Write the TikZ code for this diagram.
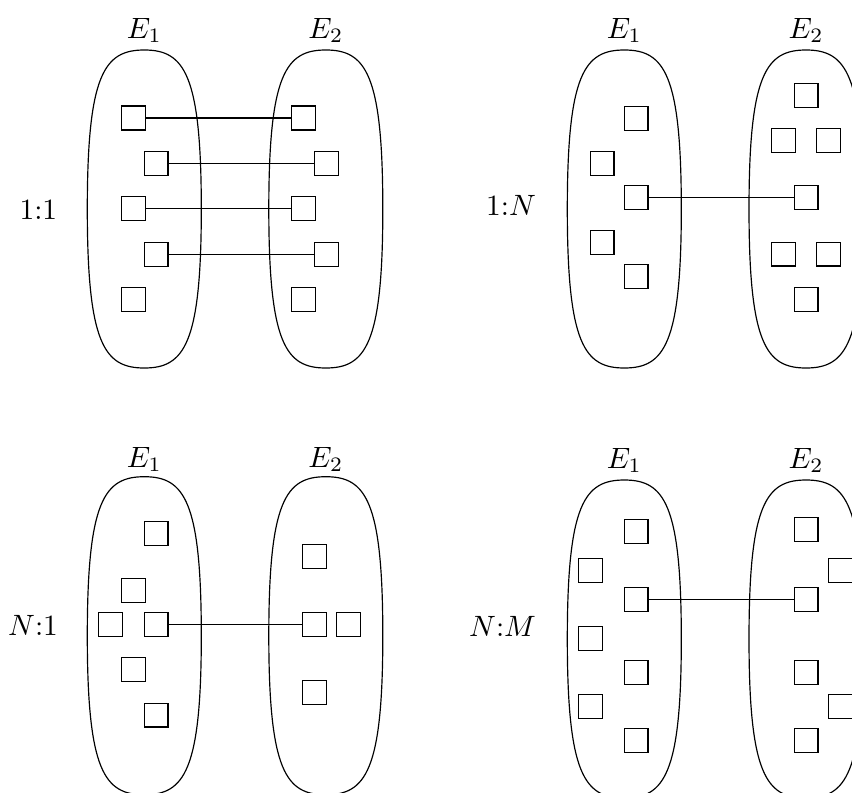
\documentclass[tikz,border=0pt]{standalone}
\usepackage{amsmath}
\usepackage{tikz}
\usetikzlibrary{positioning}
\usetikzlibrary{shapes}

\begin{document}
\begin{tikzpicture}[x=0.34pt, y=-0.34pt]
            % Set primary shapes
            \tikzset{
                setOval/.pic={
                        \draw (0,-159) .. controls (-39.9,-159) and (-57,-135.2) .. (-57,0)
                            .. controls (-57,135.2) and (-39.9,159) .. (0,159)
                            .. controls (39.9,159) and (57,135.2) .. (57,0)
                            .. controls (57,-135.2) and (39.9,-159) .. cycle;
                    }
            }
            \tikzset{
                elemNode/.style={
                        draw,
                        rectangle,
                        inner sep=0pt,
                        minimum size=8.1pt
                    }
            }
            \tikzset{
                setLabel/.style={
                        inner sep=0pt,
                        anchor=base
                    }
            }
            \tikzset{
                ratioLabel/.style={
                        inner sep=0pt,
                        anchor=base east
                    }
            }
            \useasboundingbox (0,0) rectangle (852,792);
            % 1:1
            \pic at (144.3,209) {setOval};
            \pic at (325.8,209) {setOval};
            \node[setLabel](oneOneLabel1) at (144.3,38.3){$E_1$};
            \node[setLabel](oneOneLabel2) at (325.8,38.3){$E_2$};
            \node[ratioLabel](oneOneRatio) at (57.8,219.3){$1{:}1$};
            \node[elemNode](oneOneLeft1) at (133.5,118){};
            \node[elemNode](oneOneLeft2) at (156,163.3){};
            \node[elemNode](oneOneLeft3) at (133.5,208.7){};
            \node[elemNode](oneOneLeft4) at (156,254.3){};
            \node[elemNode](oneOneLeft5) at (133.5,299.3){};
            \node[elemNode](oneOneRight1) at (303.5,118){};
            \node[elemNode](oneOneRight2) at (326.3,163.3){};
            \node[elemNode](oneOneRight3) at (303.5,208.7){};
            \node[elemNode](oneOneRight4) at (326.3,254.3){};
            \node[elemNode](oneOneRight5) at (303.5,299.3){};
            % 1:N
            \pic at (624.3,209) {setOval};
            \pic at (806,209) {setOval};
            \node[setLabel](oneManyLabel1) at (624.3,38.3){$E_1$};
            \node[setLabel](oneManyLabel2) at (806,38.3){$E_2$};
            \node[ratioLabel](oneManyRatio) at (536.5,215){$1{:}N$};
            \node[elemNode](oneManyLeft1) at (636,118.2){};
            \node[elemNode](oneManyLeft2) at (602,163.3){};
            \node[elemNode](oneManyLeft3) at (636,197.3){};
            \node[elemNode](oneManyLeft4) at (602,242.5){};
            \node[elemNode](oneManyLeft5) at (636,276.8){};
            \node[elemNode](oneManyRight1) at (806,95.3){};
            \node[elemNode](oneManyRight2) at (783.3,140.3){};
            \node[elemNode](oneManyRight3) at (828.7,140.3){};
            \node[elemNode](oneManyRight4) at (806,197.3){};
            \node[elemNode](oneManyRight5) at (783.3,254){};
            \node[elemNode](oneManyRight6) at (828.7,254){};
            \node[elemNode](oneManyRight7) at (806,299.3){};
            % N:1
            \pic at (144.3,635.7) {setOval};
            \pic at (325.8,635.7) {setOval};
            \node[setLabel](manyOneLabel1) at (144.3,467.3){$E_1$};
            \node[setLabel](manyOneLabel2) at (325.8,467.3){$E_2$};
            \node[ratioLabel](manyOneRatio) at (58.5,635.3){$N{:}1$};
            \node[elemNode](manyOneLeft1) at (156,533.7){};
            \node[elemNode](manyOneLeft2) at (133.3,590.3){};
            \node[elemNode](manyOneLeft3) at (110.3,624.3){};
            \node[elemNode](manyOneLeft4) at (156,624.3){};
            \node[elemNode](manyOneLeft5) at (133.3,669.7){};
            \node[elemNode](manyOneLeft6) at (156,715){};
            \node[elemNode](manyOneRight1) at (314.7,556.3){};
            \node[elemNode](manyOneRight2) at (314.7,624.3){};
            \node[elemNode](manyOneRight3) at (348.7,624.3){};
            \node[elemNode](manyOneRight4) at (314.7,692.3){};
            % N:M
            \pic at (624.3,639) {setOval};
            \pic at (806,639) {setOval};
            \node[setLabel](manyManyLabel1) at (624.3,468.3){$E_1$};
            \node[setLabel](manyManyLabel2) at (806,468.3){$E_2$};
            \node[ratioLabel](manyManyRatio) at (536.5,636){$N{:}M$};
            \node[elemNode](manyManyLeft1) at (636,531.7){};
            \node[elemNode](manyManyLeft2) at (590.3,570.3){};
            \node[elemNode](manyManyLeft3) at (636,599.7){};
            \node[elemNode](manyManyLeft4) at (590.3,638.3){};
            \node[elemNode](manyManyLeft5) at (636,672.3){};
            \node[elemNode](manyManyLeft6) at (590.3,706.3){};
            \node[elemNode](manyManyLeft7) at (636,740.3){};
            \node[elemNode](manyManyRight1) at (806,529.7){};
            \node[elemNode](manyManyRight2) at (840.3,570.3){};
            \node[elemNode](manyManyRight3) at (806,599.7){};
            \node[elemNode](manyManyRight4) at (806,672.3){};
            \node[elemNode](manyManyRight5) at (840.3,706.3){};
            \node[elemNode](manyManyRight6) at (806,740.3){};
            % Draw links
            \foreach \i in {1,...,4}
                \draw(oneOneLeft\i) -- (oneOneRight\i);
            \draw(oneManyLeft3) -- (oneManyRight4);
            \draw(manyOneLeft4) -- (manyOneRight2);
            \draw(manyManyLeft3) -- (manyManyRight3);

\end{tikzpicture}
\end{document}
